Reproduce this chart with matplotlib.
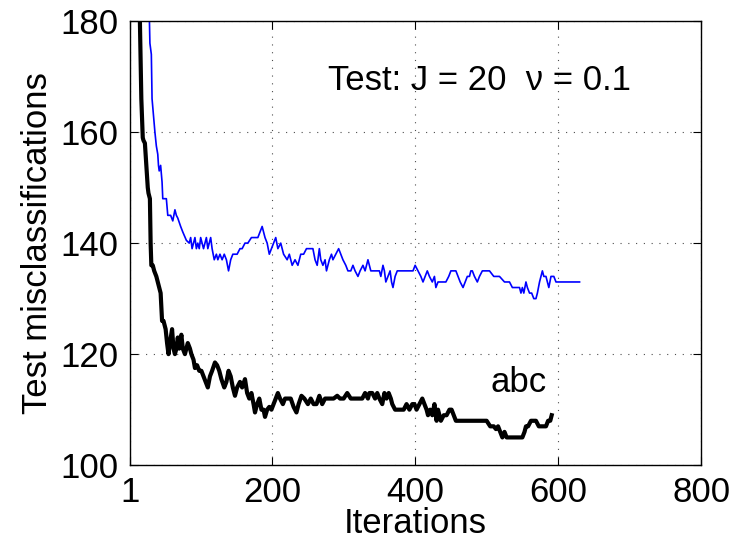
import numpy as np
import matplotlib
matplotlib.use("Agg")
from matplotlib import pyplot as plt

plt.rcParams['font.family'] = ['Liberation Sans', 'DejaVu Sans']

# blue curve (thin)
blue_it = [28, 29, 30, 31, 32, 34, 36, 38, 40, 41, 42, 44, 46, 47, 50, 52, 54, 58, 61, 64,
           66, 68, 72, 75, 80, 84, 86, 88, 90, 92, 94, 96, 98, 100, 102, 104, 106, 108, 110, 112,
           114, 116, 119, 122, 124, 127, 130, 133, 136, 139, 142, 145, 148, 151, 155, 158, 162, 166, 171, 175,
           180, 183, 186, 188, 190, 193, 196, 199, 202, 205, 208, 212, 216, 221, 224, 228, 232, 236, 240, 244,
           248, 253, 257, 260, 263, 266, 268, 271, 274, 276, 280, 283, 285, 289, 293, 296, 299, 303, 306, 310,
           313, 316, 320, 323, 327, 330, 334, 336, 338, 342, 346, 350, 352, 355, 357, 359, 362, 365, 367, 369,
           372, 375, 378, 384, 390, 397, 400, 404, 408, 411, 414, 417, 420, 424, 427, 429, 432, 434, 440, 443,
           447, 450, 457, 460, 463, 467, 470, 473, 476, 478, 480, 483, 487, 490, 494, 500, 504, 510, 518, 525,
           532, 536, 540, 546, 548, 550, 552, 555, 557, 560, 563, 566, 569, 571, 574, 578, 580, 583, 585, 587,
           590, 592, 594, 597, 600, 630]
blue_val = [182, 176, 175, 174, 166, 163, 160, 157.5, 156, 154, 153, 154, 151, 148, 148, 148, 145, 145, 144, 146,
            145, 144.5, 143, 142, 140.5, 140, 141, 139, 140, 141, 139, 140, 139, 141, 140, 139, 140, 141, 139, 140,
            141, 139, 137, 138, 137, 138, 137, 138, 137, 135, 137, 138, 138, 138, 139, 139, 140, 140, 141, 141,
            141, 142, 143, 142, 141, 140, 138, 139, 140, 141, 139, 140, 138, 137, 138, 136, 137, 136, 138, 138,
            139, 139, 139, 137, 136, 139, 137, 136, 137, 135, 137, 138, 137, 138, 139, 138, 137, 136, 135, 135,
            136, 135, 134, 135, 136, 135, 137, 136, 135, 135, 135, 135, 134, 136, 135, 133, 134, 135, 133, 132,
            134, 135, 135, 135, 135, 135, 136, 135, 134, 133, 134, 135, 134, 133, 134, 132, 133, 133, 133, 133,
            134, 135, 135, 134, 133, 132, 133, 134, 134, 135, 135, 134, 133, 134, 135, 135, 135, 134, 134, 133,
            133, 132, 132, 132, 131, 132, 131, 133, 132, 131, 131, 130, 130, 131, 133, 135, 134, 134, 133, 132,
            134, 134, 134, 133, 133, 133]

# black curve (thick)
black_it = [14, 15, 17, 19, 20, 22, 24, 26, 27, 29, 30, 31, 33, 35, 38, 41, 44, 46, 48, 51,
            53, 55, 57, 60, 62, 64, 66, 68, 70, 73, 75, 78, 80, 82, 85, 87, 90, 92, 95, 98,
            101, 104, 107, 110, 113, 116, 120, 123, 126, 129, 133, 136, 139, 142, 145, 148, 151, 155, 158, 162,
            165, 168, 171, 174, 176, 179, 182, 185, 188, 190, 193, 196, 199, 202, 205, 208, 211, 215, 218, 222,
            226, 230, 234, 237, 241, 245, 250, 254, 258, 262, 266, 270, 274, 278, 282, 286, 291, 295, 300, 305,
            310, 315, 320, 326, 330, 334, 336, 340, 344, 347, 350, 354, 357, 360, 363, 366, 368, 372, 376, 380,
            384, 388, 392, 396, 399, 402, 406, 410, 413, 416, 418, 421, 424, 427, 430, 432, 436, 440, 444, 448,
            451, 454, 457, 462, 467, 470, 476, 480, 486, 492, 500, 505, 510, 513, 516, 519, 522, 525, 528, 532,
            540, 546, 550, 553, 555, 558, 562, 566, 569, 573, 578, 583, 586, 589, 591]
black_val = [182, 180, 166, 159, 158.5, 158, 154, 150, 149, 148, 140, 136, 136, 135, 134, 132.5, 131, 126, 126, 124.5,
             122, 120, 122, 124.5, 121, 120, 121, 123, 121, 123.5, 121, 120, 121, 122, 121, 120, 119, 117.5, 118, 117,
             117, 116, 115, 114, 116, 117, 118.5, 118, 117, 115.5, 114, 115, 117, 116, 114, 112.5, 114, 115, 114, 115.5,
             113, 112, 113, 111, 109.5, 111, 112, 110, 110, 108.7, 110, 110.5, 110, 111, 112, 113, 112, 111, 112, 112,
             112, 110.5, 109.5, 111, 112.5, 112, 111, 112, 111, 111, 112.5, 111, 112, 112, 112, 112, 112.5, 112, 112, 113,
             112, 112, 112, 112, 113, 112, 113, 113, 112, 113, 112, 111, 113, 112, 113, 112, 111, 110, 110, 110,
             110, 111, 110, 111, 111, 110, 111, 112, 111, 110, 109, 110, 109, 111, 108, 110, 108, 109, 109, 110,
             110, 109, 108, 108, 108, 108, 108, 108, 108, 108, 108, 107, 107, 106.5, 107, 106, 105, 106, 105, 105,
             105, 105, 105, 106, 107, 107, 108, 108, 108, 107, 107, 107, 108, 108, 109]

x_ticks = [1, 200, 400, 600, 800]
y_ticks = [100, 120, 140, 160, 180]

fig = plt.figure(figsize=(7.38, 5.46), dpi=100)
ax = fig.add_axes([0.176, 0.148, 0.774, 0.8135])

ax.plot(blue_it, blue_val, color='#0000ff', lw=1.2)
ax.plot(black_it, black_val, color='black', lw=3.0)

ax.set_xlim(1, 800)
ax.set_ylim(100, 180)
ax.set_xticks(x_ticks)
ax.set_yticks(y_ticks)
ax.tick_params(direction='in', top=True, right=True, length=6, width=0.8,
               labelsize=25, pad=8)
ax.grid(True, color='0.3', lw=0.8, linestyle=(0, (1, 6)))
for s in ax.spines.values():
    s.set_linewidth(1.0)

ax.set_xlabel('Iterations', fontsize=25, labelpad=-2)
ax.set_ylabel('Test misclassifications', fontsize=25, labelpad=5)

ax.text(278, 167.6, 'Test: J = 20  ν = 0.1', fontsize=25, ha='left', va='baseline')
ax.text(505, 113.2, 'abc', fontsize=25, ha='left', va='baseline')

fig.savefig('out.png', dpi=100)
